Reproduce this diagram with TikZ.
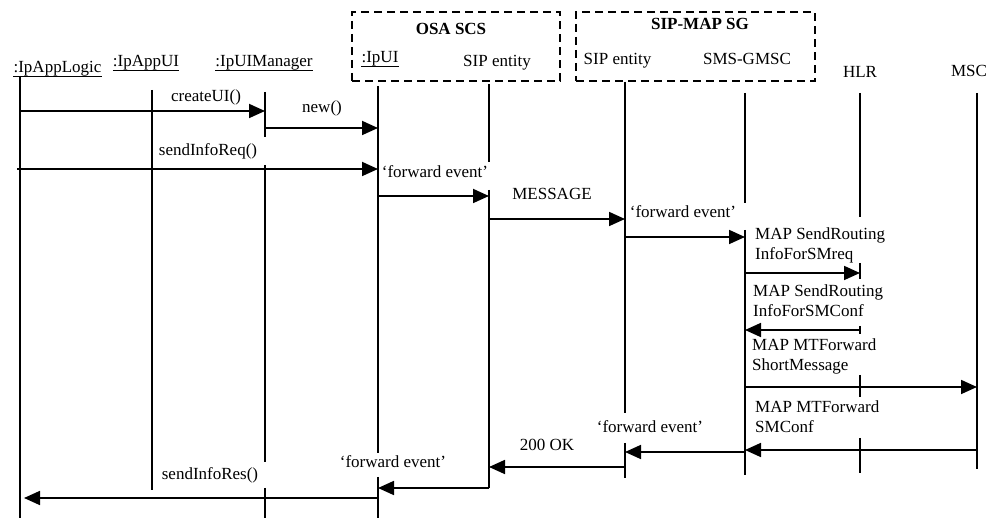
\documentclass[tikz,border=0pt]{standalone}
\usepackage{fontspec}
\setmainfont{Liberation Serif}
\usetikzlibrary{arrows.meta}
\begin{document}
\begin{tikzpicture}[x=1pt,y=-1pt,
  every node/.style={font=\fontsize{17}{20}\selectfont, inner sep=0pt},
  actor/.style={anchor=base},
  lbl/.style={anchor=base},
  note/.style={anchor=base west, align=left},
  lifeline/.style={line width=1.8pt},
  msg/.style={line width=1.8pt, -{Triangle[length=16pt,width=14pt]}},
  uline/.style={line width=1pt},
  group/.style={draw, line width=1.8pt, dash pattern=on 8pt off 5pt, minimum height=69pt}
]
\useasboundingbox (0,0) rectangle (989,518);

% lifeline positions
\coordinate (L1) at (20,0);
\coordinate (L2) at (152,0);
\coordinate (L3) at (265,0);
\coordinate (L4) at (378,0);
\coordinate (L5) at (489,0);
\coordinate (L6) at (625,0);
\coordinate (L7) at (745,0);
\coordinate (L8) at (860,0);
\coordinate (L9) at (977,0);

% grouping boxes
\node[group, minimum width=208pt] (osa) at (456,46.5) {};
\node[group, minimum width=239pt] (sg) at (695.5,46.5) {};
\node[actor, font=\fontsize{17}{20}\selectfont\bfseries] (osat) at (451,35) {OSA SCS};
\node[actor, font=\fontsize{17}{20}\selectfont\bfseries] (sgt) at (700,30) {SIP-MAP SG};

% participants
\node[actor] (h1) at (57.5,73) {:IpAppLogic};
\node[actor] (h2) at (146,67) {:IpAppUI};
\node[actor] (h3) at (264,67) {:IpUIManager};
\node[actor] (h4) at (380,63) {:IpUI};
\node[actor] (h5) at (497,67) {SIP entity};
\node[actor] (h6) at (617.5,65) {SIP entity};
\node[actor] (h7) at (747,65) {SMS-GMSC};
\node[actor] (h8) at (860,78) {HLR};
\node[actor] (h9) at (969,77) {MSC};
\foreach \n in {h1,h2,h3,h4}
  \draw[uline] ([yshift=-3.5pt]\n.base west) -- ([yshift=-3.5pt]\n.base east);

% lifelines (interrupted where labels sit on them)
\draw[lifeline] (L1 |- 0,76) -- (L1 |- 0,518);
\draw[lifeline] (L2 |- 0,90) -- (L2 |- 0,490);
\draw[lifeline] (L3 |- 0,92) -- (L3 |- 0,137) (L3 |- 0,165) -- (L3 |- 0,462) (L3 |- 0,488) -- (L3 |- 0,518);
\draw[lifeline] (L4 |- 0,86) -- (L4 |- 0,453) (L4 |- 0,477) -- (L4 |- 0,518);
\draw[lifeline] (L5 |- 0,84) -- (L5 |- 0,162) (L5 |- 0,190) -- (L5 |- 0,488);
\draw[lifeline] (L6 |- 0,82) -- (L6 |- 0,413) (L6 |- 0,443) -- (L6 |- 0,478);
\draw[lifeline] (L7 |- 0,93) -- (L7 |- 0,203) (L7 |- 0,230) -- (L7 |- 0,475);
\draw[lifeline] (L8 |- 0,93) -- (L8 |- 0,217) (L8 |- 0,263) -- (L8 |- 0,279)
  (L8 |- 0,326) -- (L8 |- 0,334) (L8 |- 0,375) -- (L8 |- 0,397) (L8 |- 0,438) -- (L8 |- 0,473);
\draw[lifeline] (L9 |- 0,93) -- (L9 |- 0,469);

% messages
\draw[msg] (L1 |- 0,111) -- (L3 |- 0,111);
\node[lbl] (m1) at (206,102) {createUI()};
\draw[msg] (L3 |- 0,128) -- (L4 |- 0,128);
\node[lbl] (m2) at (322,113) {new()};
\draw[msg] (17,169) -- (L4 |- 0,169);
\node[lbl] (m3) at (208,156) {sendInfoReq()};
\node[lbl] (m4) at (435,178) {`forward event'};
\draw[msg] (L4 |- 0,196) -- (L5 |- 0,196);
\node[lbl] (m5) at (552,200) {MESSAGE};
\draw[msg] (L5 |- 0,219) -- (L6 |- 0,219);
\node[lbl] (m6) at (683,218) {`forward event'};
\draw[msg] (L6 |- 0,237) -- (L7 |- 0,237);
\node[note] (m7) at (755,260) {MAP SendRouting\\InfoForSMreq};
\draw[msg] (L7 |- 0,273) -- (L8 |- 0,273);
\node[note] (m8) at (753,317) {MAP SendRouting\\InfoForSMConf};
\draw[msg] (L8 |- 0,330) -- (L7 |- 0,330);
\node[note] (m9) at (752,371) {MAP MTForward\\ShortMessage};
\draw[msg] (L7 |- 0,387) -- (L9 |- 0,387);
\node[note] (m10) at (755,433) {MAP MTForward\\SMConf};
\draw[msg] (L9 |- 0,450) -- (L7 |- 0,450);
\node[lbl] (m11) at (650,433) {`forward event'};
\draw[msg] (L7 |- 0,452) -- (L6 |- 0,452);
\node[lbl] (m12) at (547,451) {200 OK};
\draw[msg] (L6 |- 0,467) -- (L5 |- 0,467);
\node[lbl] (m13) at (393,468) {`forward event'};
\draw[msg] (L5 |- 0,488) -- (L4 |- 0,488);
\node[lbl] (m14) at (210,480) {sendInfoRes()};
\draw[msg] (L4 |- 0,498) -- (24,498);
\end{tikzpicture}
\end{document}
